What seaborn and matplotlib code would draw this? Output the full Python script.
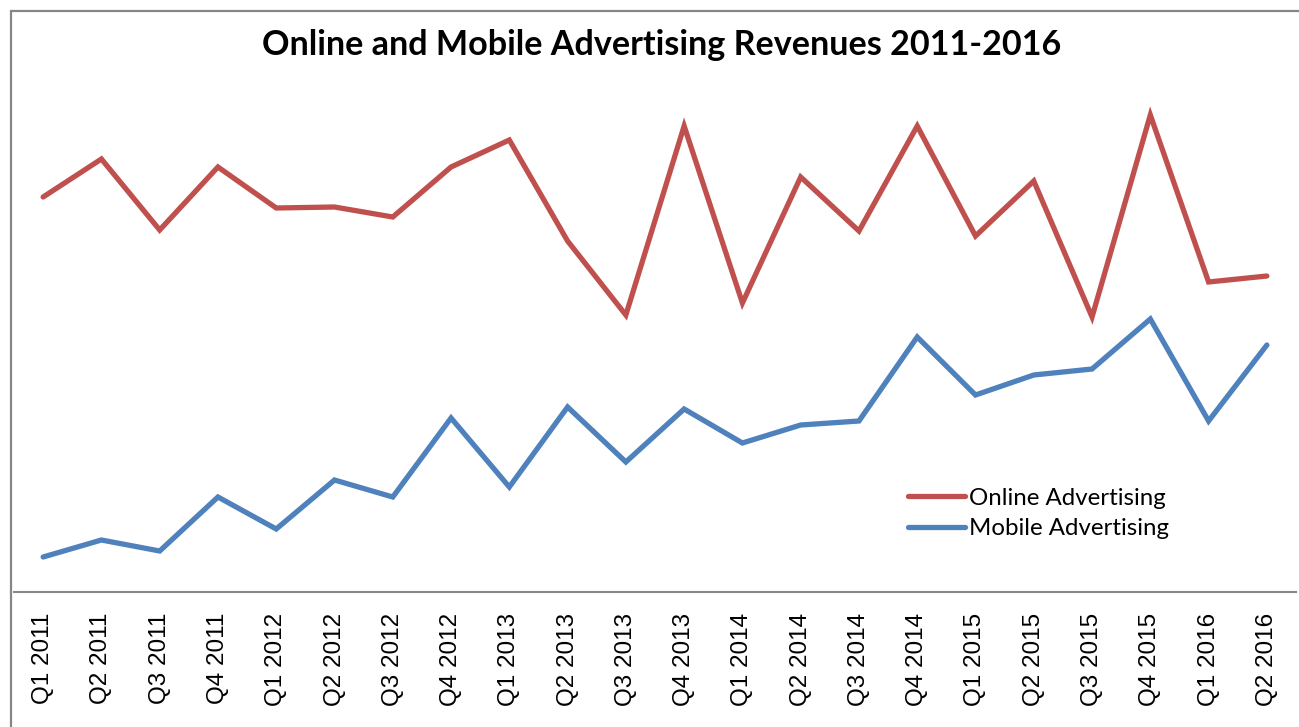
import numpy as np
import pandas as pd
import matplotlib
matplotlib.use("Agg")
import matplotlib.pyplot as plt
import seaborn as sns
from matplotlib.patches import Rectangle

quarters = [
    "Q1 2011", "Q2 2011", "Q3 2011", "Q4 2011",
    "Q1 2012", "Q2 2012", "Q3 2012", "Q4 2012",
    "Q1 2013", "Q2 2013", "Q3 2013", "Q4 2013",
    "Q1 2014", "Q2 2014", "Q3 2014", "Q4 2014",
    "Q1 2015", "Q2 2015", "Q3 2015", "Q4 2015",
    "Q1 2016", "Q2 2016",
]
# values (no y scale shown, arbitrary units)
online = [3.95, 4.33, 3.62, 4.25, 3.84, 3.85, 3.75, 4.25, 4.52, 3.51, 2.77,
          4.66, 2.89, 4.15, 3.61, 4.66, 3.56, 4.11, 2.75, 4.77, 3.10, 3.16]
mobile = [0.35, 0.52, 0.41, 0.95, 0.63, 1.12, 0.95, 1.74, 1.05, 1.85, 1.30,
          1.83, 1.49, 1.67, 1.71, 2.55, 1.97, 2.17, 2.23, 2.73, 1.71, 2.47]

df = pd.DataFrame({
    "quarter": quarters * 2,
    "idx": list(range(len(quarters))) * 2,
    "revenue": online + mobile,
    "series": ["Online Advertising"] * len(quarters) + ["Mobile Advertising"] * len(quarters),
})

sns.set_style("white")
plt.rcParams["font.family"] = ["Liberation Sans", "DejaVu Sans"]

fig = plt.figure(figsize=(12.99, 7.27), dpi=100)
W, H = 1299, 727
ax = fig.add_axes([14 / W, 1 - 592 / H, 1282 / W, (592 - 80) / H])

sns.lineplot(
    data=df, x="idx", y="revenue", hue="series",
    palette={"Online Advertising": "#C0504D", "Mobile Advertising": "#4F81BD"},
    linewidth=3.8, ax=ax, legend=True,
)
for line in ax.lines:
    line.set_solid_capstyle("round")
    line.set_solid_joinstyle("miter")

ax.set_xlim(-0.5, len(quarters) - 0.5)
ax.set_ylim(0, 5.12)
ax.set_xlabel("")
ax.set_ylabel("")
ax.set_yticks([])
ax.set_xticks(range(len(quarters)))
ax.set_xticklabels(quarters, rotation=90, fontsize=17.5, color="black")
ax.tick_params(axis="x", direction="inout", length=12, width=1.5, color="#868686", pad=9)
for side in ["top", "right", "left"]:
    ax.spines[side].set_visible(False)
ax.spines["bottom"].set_color("#868686")
ax.spines["bottom"].set_linewidth(1.5)

leg = ax.legend(
    loc="upper left", bbox_to_anchor=((898 - 14) / 1282, (592 - 478) / 512),
    frameon=False, handlelength=2.4, handletextpad=0.15, labelspacing=0.4,
    prop={"family": "Lato", "size": 17.3}, borderaxespad=0,
)
for h in leg.get_lines():
    h.set_linewidth(3.8)
for t in leg.get_texts():
    t.set_color("black")

fig.text(662 / W, 1 - 45 / H, "Online and Mobile Advertising Revenues 2011-2016",
         ha="center", va="center", fontsize=24.6, fontweight="bold", family="Lato",
         color="black")

fig.patches.append(Rectangle((11 / W, -0.1), 1.2, 1 - 11 / H + 0.1,
                             transform=fig.transFigure, fill=False,
                             edgecolor="#868686", linewidth=1.6))

fig.savefig("out.png", dpi=100)
